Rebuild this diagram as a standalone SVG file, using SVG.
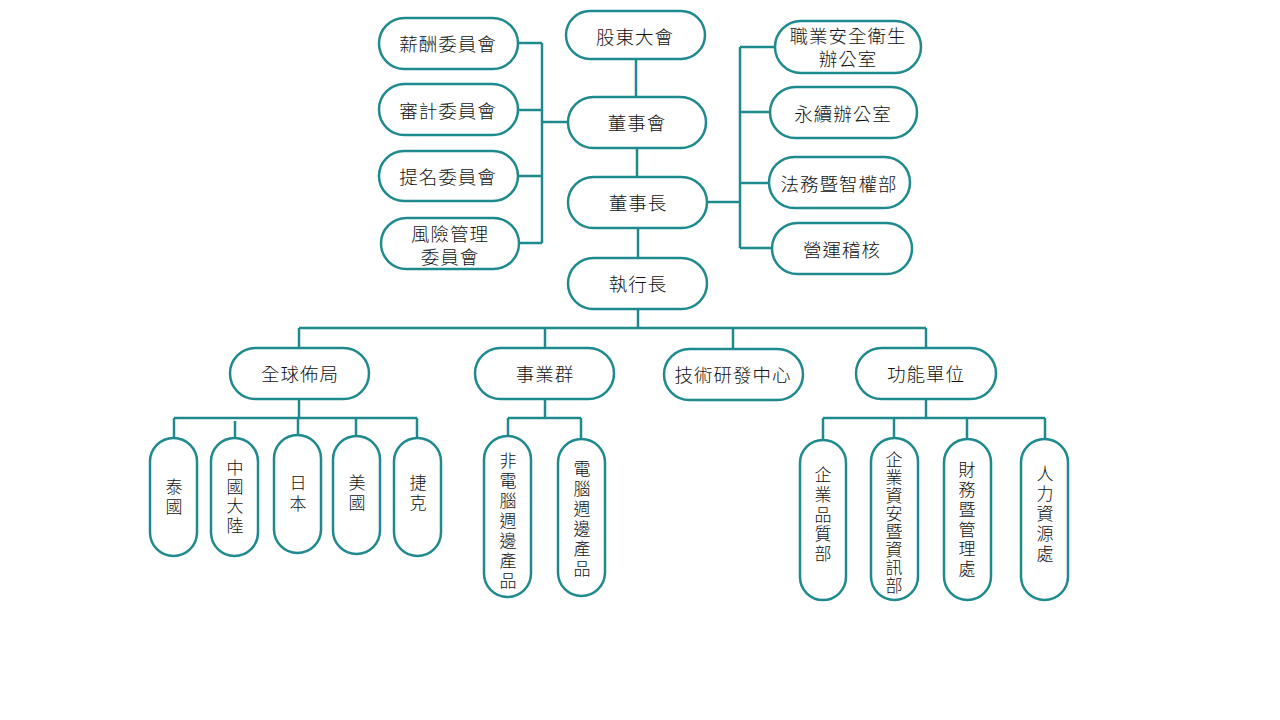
<svg xmlns="http://www.w3.org/2000/svg" width="1280" height="720" viewBox="0 0 1280 720">
<style>
.n{fill:#ffffff;stroke:#1f8a8e;stroke-width:2.5}
.c{fill:none;stroke:#1f8a8e;stroke-width:2.5}
text{font-family:"Noto Sans CJK TC","Noto Sans CJK SC",sans-serif;font-size:18.5px;font-weight:300;fill:#111;text-anchor:middle;dominant-baseline:central}
.h{letter-spacing:1px}
.v{font-size:17px}
</style>
<rect width="1280" height="720" fill="#ffffff"/>
<g id="connectors">
<path class="c" d="M636,59V97M637,148V177M638,228V258"/>
<path class="c" d="M518,43H542M518,110H542M518,176H542M519,243H542M542,43V243M542,122H568"/>
<path class="c" d="M775,47H740M770,112H740M769,183H740M772,248H740M740,47V248M707,202H740"/>
<path class="c" d="M638,309V328M299,328H926M299,328V348M545,328V348M733,328V349M926,328V348"/>
<path class="c" d="M299,399V418M174,418H417M174,418V438M235,421V438M298,418V435M356,418V436M417,418V438"/>
<path class="c" d="M545,399V418M508,418H581M508,418V436M581,418V439"/>
<path class="c" d="M926,399V418M823,418H1045M823,418V440M894,418V438M967,418V439M1045,418V439"/>
</g>
<g id="n-gudong"><rect class="n" x="566" y="11" width="139" height="48" rx="24"/><text class="h" x="635" y="36">股東大會</text></g>
<g id="n-dongshihui"><rect class="n" x="568" y="97" width="138" height="51" rx="25.5"/><text class="h" x="637" y="122">董事會</text></g>
<g id="n-dongshizhang"><rect class="n" x="568" y="177" width="139" height="51" rx="25.5"/><text class="h" x="638" y="202">董事長</text></g>
<g id="n-ceo"><rect class="n" x="568" y="258" width="139" height="51" rx="25.5"/><text class="h" x="638" y="283">執行長</text></g>

<g id="n-xinchou"><rect class="n" x="379" y="18" width="139" height="51" rx="25.5"/><text class="h" x="448" y="43">薪酬委員會</text></g>
<g id="n-shenji"><rect class="n" x="379" y="84" width="139" height="51" rx="25.5"/><text class="h" x="448" y="110">審計委員會</text></g>
<g id="n-timing"><rect class="n" x="379" y="151" width="139" height="50" rx="25"/><text class="h" x="448" y="176">提名委員會</text></g>
<g id="n-fengxian"><rect class="n" x="381" y="218" width="138" height="51" rx="25.5"/><text class="h" x="450" y="233">風險管理</text><text class="h" x="450" y="256">委員會</text></g>

<g id="n-zhiye"><rect class="n" x="775" y="21" width="146" height="52" rx="26"/><text class="h" x="848" y="35">職業安全衛生</text><text class="h" x="848" y="58">辦公室</text></g>
<g id="n-yongxu"><rect class="n" x="770" y="87" width="147" height="51" rx="25.5"/><text class="h" x="843" y="113">永續辦公室</text></g>
<g id="n-fawu"><rect class="n" x="769" y="157" width="141" height="51" rx="25.5"/><text class="h" x="839" y="183">法務暨智權部</text></g>
<g id="n-jihe"><rect class="n" x="772" y="223" width="140" height="51" rx="25.5"/><text class="h" x="842" y="249">營運稽核</text></g>

<g id="n-global"><rect class="n" x="230" y="348" width="139" height="51" rx="25.5"/><text class="h" x="300" y="373">全球佈局</text></g>
<g id="n-business"><rect class="n" x="475" y="348" width="139" height="51" rx="25.5"/><text class="h" x="545" y="373">事業群</text></g>
<g id="n-rd"><rect class="n" x="664" y="349" width="139" height="51" rx="25.5"/><text class="h" x="733" y="374">技術研發中心</text></g>
<g id="n-func"><rect class="n" x="856" y="348" width="140" height="51" rx="25.5"/><text class="h" x="926" y="373">功能單位</text></g>

<g id="n-thai"><rect class="n" x="150" y="438" width="47" height="118" rx="23.5"/><text class="v" x="174"><tspan x="174" y="485">泰</tspan><tspan x="174" y="505">國</tspan></text></g>
<g id="n-china"><rect class="n" x="211" y="438" width="47" height="118" rx="23.5"/><text class="v" x="235"><tspan x="235" y="466">中</tspan><tspan x="235" y="485">國</tspan><tspan x="235" y="504">大</tspan><tspan x="235" y="524">陸</tspan></text></g>
<g id="n-japan"><rect class="n" x="274" y="435" width="47" height="118" rx="23.5"/><text class="v" x="298"><tspan x="298" y="481">日</tspan><tspan x="298" y="502">本</tspan></text></g>
<g id="n-usa"><rect class="n" x="333" y="436" width="47" height="118" rx="23.5"/><text class="v" x="357"><tspan x="357" y="481">美</tspan><tspan x="357" y="501">國</tspan></text></g>
<g id="n-czech"><rect class="n" x="394" y="438" width="47" height="118" rx="23.5"/><text class="v" x="418"><tspan x="418" y="481">捷</tspan><tspan x="418" y="501">克</tspan></text></g>

<g id="n-noncomp"><rect class="n" x="484" y="436" width="47" height="161" rx="23.5"/><text class="v" x="508"><tspan x="508" y="459">非</tspan><tspan x="508" y="479">電</tspan><tspan x="508" y="499">腦</tspan><tspan x="508" y="519">週</tspan><tspan x="508" y="539">邊</tspan><tspan x="508" y="559">產</tspan><tspan x="508" y="579">品</tspan></text></g>
<g id="n-comp"><rect class="n" x="558" y="439" width="47" height="157" rx="23.5"/><text class="v" x="582"><tspan x="582" y="467">電</tspan><tspan x="582" y="487">腦</tspan><tspan x="582" y="507">週</tspan><tspan x="582" y="527">邊</tspan><tspan x="582" y="547">產</tspan><tspan x="582" y="567">品</tspan></text></g>

<g id="n-quality"><rect class="n" x="800" y="440" width="46" height="160" rx="23"/><text class="v" x="823"><tspan x="823" y="473">企</tspan><tspan x="823" y="493">業</tspan><tspan x="823" y="513">品</tspan><tspan x="823" y="532">質</tspan><tspan x="823" y="552">部</tspan></text></g>
<g id="n-infosec"><rect class="n" x="871" y="438" width="47" height="162" rx="23.5"/><text class="v" x="894"><tspan x="894" y="458">企</tspan><tspan x="894" y="476">業</tspan><tspan x="894" y="494">資</tspan><tspan x="894" y="512">安</tspan><tspan x="894" y="530">暨</tspan><tspan x="894" y="548">資</tspan><tspan x="894" y="566">訊</tspan><tspan x="894" y="584">部</tspan></text></g>
<g id="n-finance"><rect class="n" x="944" y="439" width="47" height="161" rx="23.5"/><text class="v" x="967"><tspan x="967" y="468">財</tspan><tspan x="967" y="488">務</tspan><tspan x="967" y="508">暨</tspan><tspan x="967" y="528">管</tspan><tspan x="967" y="547">理</tspan><tspan x="967" y="567">處</tspan></text></g>
<g id="n-hr"><rect class="n" x="1021" y="439" width="47" height="161" rx="23.5"/><text class="v" x="1045"><tspan x="1045" y="472">人</tspan><tspan x="1045" y="492">力</tspan><tspan x="1045" y="512">資</tspan><tspan x="1045" y="532">源</tspan><tspan x="1045" y="552">處</tspan></text></g>
</svg>
